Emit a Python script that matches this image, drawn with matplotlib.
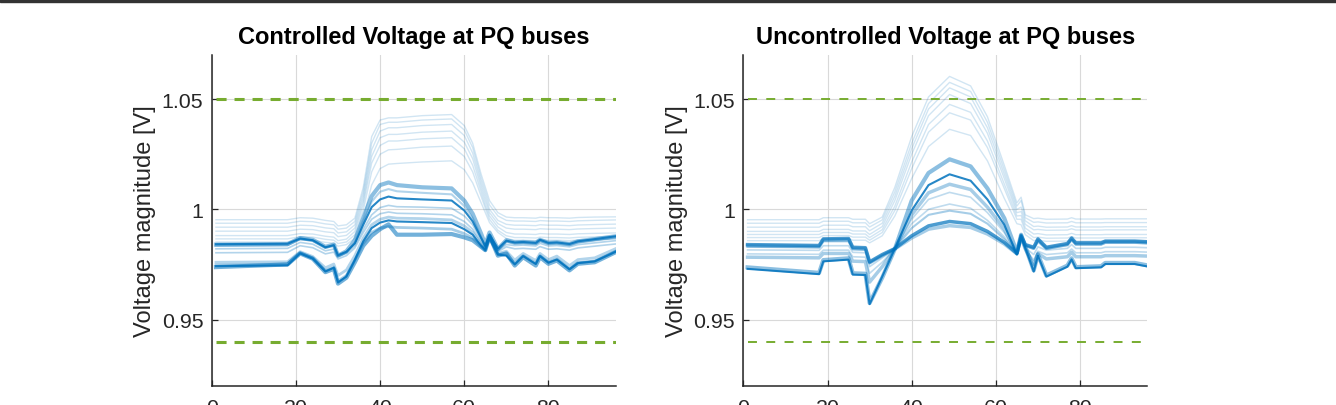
import matplotlib
matplotlib.use('Agg')
import matplotlib.pyplot as plt
from matplotlib.patches import Rectangle

plt.rcParams['font.family'] = ['Liberation Sans', 'DejaVu Sans']

t_ctrl = [1, 18, 21, 24, 27, 29, 30, 32, 34, 36, 38, 40, 42, 44, 50, 57, 60, 62, 64, 65, 66,
          68, 70, 72, 74, 77, 78, 80, 82, 85, 87, 91, 96]
t_unctrl = [1, 18, 19, 25, 26, 29, 30, 33, 36, 40, 44, 49, 54, 58, 62, 65, 66, 67, 69, 70, 72,
            77, 78, 79, 85, 86, 93, 96]

# controlled voltages, one row per PQ bus
v_ctrl = [
    [.9953, .9953, .9962, .9960, .9950, .9945, .9925, .9930, .9960, 1.0100, 1.0330, 1.0405, 1.0415, 1.0415, 1.0425, 1.0430, 1.0380,
     1.0300, 1.0160, 1.0100, 1.0040, .9985, .9965, .9962, .9962, .9960, .9964, .9962, .9962, .9960, .9963, .9965, .9966],
    [.9937, .9937, .9946, .9944, .9934, .9930, .9910, .9915, .9945, 1.0080, 1.0300, 1.0385, 1.0395, 1.0395, 1.0405, 1.0410, 1.0360,
     1.0280, 1.0140, 1.0080, 1.0020, .9970, .9950, .9947, .9947, .9945, .9949, .9947, .9947, .9945, .9948, .9950, .9952],
    [.9919, .9919, .9928, .9926, .9916, .9912, .9893, .9898, .9930, 1.0060, 1.0270, 1.0355, 1.0370, 1.0370, 1.0380, 1.0385, 1.0335,
     1.0255, 1.0120, 1.0060, 1.0000, .9950, .9932, .9928, .9928, .9926, .9930, .9928, .9928, .9926, .9929, .9931, .9933],
    [.9901, .9901, .9910, .9908, .9898, .9894, .9876, .9882, .9915, 1.0040, 1.0240, 1.0325, 1.0340, 1.0340, 1.0350, 1.0355, 1.0305,
     1.0230, 1.0100, 1.0040, .9985, .9935, .9915, .9910, .9910, .9908, .9912, .9910, .9910, .9908, .9911, .9913, .9915],
    [.9881, .9881, .9890, .9888, .9878, .9874, .9858, .9865, .9900, 1.0020, 1.0210, 1.0290, 1.0310, 1.0310, 1.0320, 1.0325, 1.0275,
     1.0200, 1.0080, 1.0020, .9970, .9920, .9895, .9888, .9888, .9886, .9890, .9888, .9888, .9886, .9889, .9891, .9893],
    [.9866, .9866, .9876, .9874, .9864, .9860, .9845, .9852, .9885, .9995, 1.0170, 1.0250, 1.0270, 1.0272, 1.0282, 1.0287, 1.0240,
     1.0170, 1.0060, 1.0005, .9955, .9905, .9880, .9872, .9872, .9870, .9874, .9872, .9872, .9870, .9873, .9875, .9877],
    [.9852, .9852, .9862, .9860, .9850, .9847, .9833, .9840, .9870, .9960, 1.0110, 1.0185, 1.0205, 1.0208, 1.0215, 1.0220, 1.0180,
     1.0120, 1.0030, .9985, .9940, .9895, .9868, .9860, .9860, .9858, .9862, .9860, .9860, .9858, .9861, .9863, .9865],
    [.9840, .9842, .9870, .9862, .9830, .9840, .9790, .9810, .9860, .9960, 1.0060, 1.0110, 1.0122, 1.0110, 1.0100, 1.0095, 1.0040,
     .9980, .9890, .9840, .9895, .9820, .9860, .9850, .9852, .9848, .9862, .9848, .9850, .9843, .9855, .9865, .9878],
    [.9835, .9837, .9865, .9857, .9825, .9835, .9788, .9805, .9850, .9945, 1.0035, 1.0080, 1.0092, 1.0082, 1.0075, 1.0068, 1.0015,
     .9960, .9875, .9830, .9888, .9815, .9852, .9844, .9846, .9842, .9856, .9842, .9844, .9837, .9849, .9859, .9870],
    [.9842, .9844, .9868, .9860, .9828, .9838, .9792, .9808, .9845, .9930, 1.0010, 1.0045, 1.0058, 1.0050, 1.0045, 1.0040, .9995,
     .9945, .9870, .9835, .9885, .9822, .9858, .9850, .9852, .9848, .9862, .9848, .9850, .9843, .9855, .9865, .9878],
    [.9821, .9823, .9850, .9842, .9812, .9820, .9785, .9800, .9835, .9910, .9975, 1.0008, 1.0018, 1.0012, 1.0010, 1.0005, .9970,
     .9930, .9860, .9828, .9880, .9815, .9840, .9836, .9838, .9834, .9846, .9834, .9836, .9830, .9840, .9848, .9858],
    [.9803, .9805, .9835, .9826, .9798, .9806, .9775, .9790, .9825, .9895, .9955, .9980, .9988, .9982, .9980, .9975, .9945,
     .9910, .9850, .9822, .9875, .9808, .9830, .9821, .9823, .9819, .9831, .9819, .9821, .9815, .9825, .9833, .9843],
    [.9760, .9762, .9808, .9786, .9735, .9752, .9700, .9725, .9790, .9870, .9930, .9955, .9965, .9960, .9958, .9952, .9925,
     .9895, .9840, .9818, .9870, .9800, .9810, .9770, .9800, .9768, .9800, .9772, .9788, .9745, .9772, .9780, .9822],
    [.9742, .9746, .9800, .9776, .9718, .9735, .9668, .9695, .9770, .9855, .9915, .9940, .9950, .9945, .9942, .9938, .9910,
     .9885, .9835, .9815, .9870, .9795, .9790, .9750, .9788, .9752, .9788, .9758, .9772, .9728, .9756, .9764, .9808],
    [.9748, .9752, .9803, .9780, .9722, .9738, .9675, .9700, .9770, .9845, .9895, .9915, .9922, .9918, .9915, .9910, .9890,
     .9870, .9830, .9812, .9868, .9795, .9795, .9755, .9790, .9755, .9790, .9760, .9775, .9730, .9758, .9766, .9810],
    [.9738, .9750, .9800, .9776, .9715, .9730, .9663, .9690, .9760, .9835, .9880, .9910, .9932, .9885, .9885, .9888, .9873,
     .9860, .9830, .9815, .9880, .9790, .9800, .9745, .9783, .9745, .9783, .9753, .9768, .9723, .9753, .9760, .9806],
]

# uncontrolled voltages, one row per PQ bus
v_unctrl = [
    [.9953, .9953, .9962, .9962, .9955, .9955, .9935, .9965, 1.0100, 1.0330, 1.0510, 1.0603, 1.0560, 1.0420, 1.0200, 1.0030,
     1.0055, .9975, .9958, .9960, .9955, .9956, .9962, .9956, .9956, .9957, .9957, .9957],
    [.9937, .9937, .9946, .9946, .9939, .9939, .9920, .9952, 1.0080, 1.0300, 1.0480, 1.0576, 1.0535, 1.0395, 1.0180, 1.0015,
     1.0040, .9962, .9941, .9943, .9938, .9939, .9945, .9939, .9939, .9940, .9940, .9940],
    [.9919, .9919, .9928, .9928, .9921, .9921, .9903, .9937, 1.0060, 1.0275, 1.0455, 1.0551, 1.0510, 1.0370, 1.0160, 1.0000,
     1.0010, .9948, .9922, .9924, .9919, .9920, .9926, .9920, .9920, .9921, .9921, .9921],
    [.9900, .9900, .9909, .9909, .9902, .9902, .9886, .9922, 1.0040, 1.0250, 1.0425, 1.0521, 1.0480, 1.0345, 1.0140, .9985,
     .9990, .9932, .9907, .9909, .9905, .9906, .9912, .9906, .9906, .9907, .9907, .9907],
    [.9886, .9886, .9895, .9895, .9888, .9888, .9872, .9908, 1.0015, 1.0215, 1.0385, 1.0476, 1.0440, 1.0310, 1.0115, .9970,
     .9972, .9915, .9888, .9890, .9884, .9885, .9891, .9885, .9885, .9886, .9886, .9886],
    [.9872, .9872, .9881, .9881, .9874, .9874, .9860, .9895, .9995, 1.0185, 1.0350, 1.0438, 1.0405, 1.0280, 1.0095, .9955,
     .9955, .9900, .9872, .9874, .9869, .9870, .9876, .9870, .9870, .9871, .9871, .9871],
    [.9858, .9858, .9867, .9867, .9860, .9860, .9848, .9880, .9970, 1.0140, 1.0285, 1.0363, 1.0335, 1.0220, 1.0050, .9935,
     .9930, .9885, .9858, .9860, .9855, .9856, .9862, .9856, .9856, .9857, .9857, .9857],
    [.9737, .9712, .9770, .9778, .9710, .9708, .9575, .9690, .9820, 1.0040, 1.0165, 1.0227, 1.0195, 1.0095, .9960, .9805,
     .9885, .9830, .9723, .9795, .9700, .9745, .9778, .9738, .9742, .9757, .9757, .9746],
    [.9730, .9706, .9764, .9772, .9704, .9702, .9570, .9695, .9822, .9995, 1.0110, 1.0159, 1.0130, 1.0045, .9930, .9795,
     .9880, .9825, .9718, .9790, .9695, .9740, .9773, .9733, .9737, .9752, .9752, .9741],
    [.9783, .9780, .9800, .9800, .9765, .9763, .9670, .9740, .9822, .9975, 1.0075, 1.0114, 1.0090, 1.0010, .9910, .9800,
     .9870, .9820, .9750, .9800, .9775, .9785, .9805, .9785, .9785, .9790, .9790, .9788],
    [.9798, .9796, .9815, .9815, .9785, .9783, .9710, .9760, .9822, .9955, 1.0045, 1.0077, 1.0055, .9985, .9895, .9800,
     .9865, .9820, .9770, .9810, .9795, .9803, .9820, .9803, .9803, .9808, .9808, .9806],
    [.9816, .9814, .9835, .9835, .9805, .9803, .9740, .9780, .9822, .9935, 1.0000, 1.0024, 1.0005, .9950, .9875, .9800,
     .9870, .9825, .9795, .9830, .9815, .9823, .9840, .9823, .9823, .9828, .9828, .9826],
    [.9830, .9827, .9855, .9855, .9818, .9816, .9755, .9790, .9822, .9915, .9975, .9994, .9980, .9935, .9865, .9800,
     .9875, .9835, .9820, .9855, .9820, .9838, .9862, .9840, .9840, .9848, .9848, .9846],
    [.9835, .9831, .9860, .9862, .9823, .9821, .9758, .9790, .9820, .9870, .9910, .9926, .9918, .9888, .9843, .9798,
     .9878, .9836, .9824, .9860, .9824, .9840, .9865, .9843, .9843, .9851, .9851, .9848],
    [.9840, .9836, .9866, .9868, .9828, .9826, .9762, .9795, .9822, .9880, .9925, .9945, .9935, .9900, .9850, .9800,
     .9882, .9840, .9828, .9866, .9828, .9845, .9870, .9848, .9848, .9856, .9856, .9853],
]

v_max = 1.05
v_min = 0.94

# line look per bus (alpha, width)
ctrl_style = [(.18, 1.0)] * 7 + [(.45, 3.0), (.3, 1.5), (.85, 1.5), (.3, 1.2), (.3, 1.2),
                                 (.3, 2.0), (.85, 1.5), (.35, 2.0), (.55, 3.0)]
unctrl_style = [(.18, 1.0)] * 7 + [(.45, 3.0), (.85, 1.5), (.35, 2.5), (.25, 1.2), (.25, 1.2),
                                   (.35, 1.5), (.35, 2.5), (.7, 2.5)]

blue = '#0072BD'
green = '#77AC30'


def draw_panel(ax, t, rows, styles, title, lim_lw, lim_dash):
    for row, (a, lw) in zip(rows, styles):
        ax.plot(t, row, color=blue, alpha=a, lw=lw, solid_joinstyle='round')
    ax.plot([1, 96], [v_max, v_max], color=green, lw=lim_lw, dashes=lim_dash)
    ax.plot([1, 96], [v_min, v_min], color=green, lw=lim_lw, dashes=lim_dash)
    ax.set_xlim(0, 96)
    ax.set_ylim(0.92, 1.07)
    ax.set_xticks([0, 20, 40, 60, 80])
    ax.set_yticks([0.95, 1, 1.05])
    ax.set_yticklabels(['0.95', '1', '1.05'])
    ax.grid(True, color='#d9d9d9', lw=0.8)
    ax.set_axisbelow(True)
    for side in ['top', 'right']:
        ax.spines[side].set_visible(False)
    for side in ['left', 'bottom']:
        ax.spines[side].set_color('#262626')
        ax.spines[side].set_linewidth(1.1)
    ax.tick_params(direction='in', length=4, width=0.9, colors='#262626', labelsize=15.4)
    ax.tick_params(axis='x', pad=9)
    ax.tick_params(axis='y', pad=6)
    ax.set_ylabel('Voltage magnitude [V]', fontsize=17, color='#262626', labelpad=4)
    ax.set_title(title, fontsize=17, fontweight='bold', pad=9)


fig = plt.figure(figsize=(13.36, 4.06), dpi=100)
ax1 = fig.add_axes([0.1585, 0.0475, 0.3024, 0.8145])
ax2 = fig.add_axes([0.5564, 0.0475, 0.3024, 0.8145])

draw_panel(ax1, t_ctrl, v_ctrl, ctrl_style, 'Controlled Voltage at PQ buses', 2.2, (3.3, 2.6))
draw_panel(ax2, t_unctrl, v_unctrl, unctrl_style, 'Uncontrolled Voltage at PQ buses', 1.4, (4.6, 4.8))

# frame edge at the top of the exported page
fig.patches.append(Rectangle((0, 1 - 2.5 / 406), 1, 2.5 / 406, transform=fig.transFigure,
                             color='#333333', zorder=10))

fig.savefig('out.png', dpi=100)
